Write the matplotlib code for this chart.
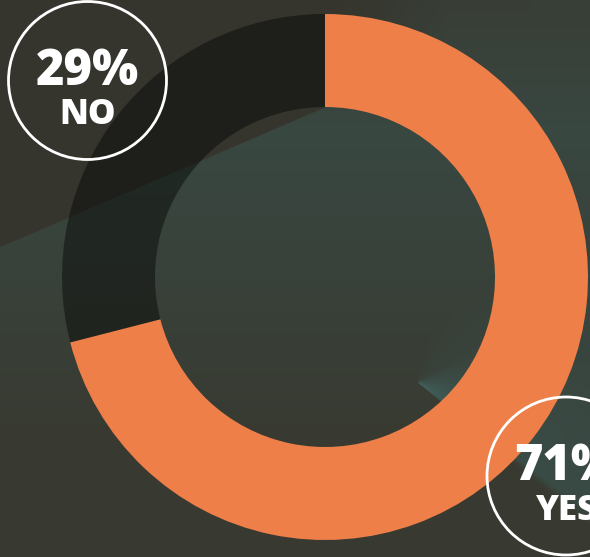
import numpy as np
import matplotlib
matplotlib.use("Agg")
import matplotlib.pyplot as plt
from matplotlib.patches import Circle

# Poll result
labels = ["YES", "NO"]
shares = [71, 29]
slice_colors = ["#EE7F48", (0, 0, 0, 0.42)]

W, H = 590, 557
fig = plt.figure(figsize=(W / 100, H / 100), dpi=100)
ax = fig.add_axes([0, 0, 1, 1])

# ---- background: dark olive with teal light falling from the right ----
yy, xx = np.mgrid[0:H, 0:W] + 0.5
olive = np.array([0x38, 0x39, 0x30]) / 255
teal = np.array([0x39, 0x4B, 0x45]) / 255
bright = np.array([0x42, 0x63, 0x5E]) / 255
shade = np.array([0x35, 0x35, 0x2D]) / 255

cx, cy = 417, 382
phi = np.degrees(np.arctan2(-(yy - cy), xx - cx))
edge = np.clip((phi + 40) / 3, 0, 1)
w_con = np.clip((140 - phi) / 200, 0, 1) * edge
w_v = (0.8 * np.clip((470 - yy) / 330, 0, 1)
       * (0.35 + 0.65 * np.clip(yy / 130, 0, 1)))
w = np.maximum(w_con, w_v)[..., None]
bg = olive * (1 - w) + teal * w

r = np.hypot(xx - cx, yy - cy)
hl = (np.exp(-r / 70) * np.clip(1 - (phi + 40) / 70, 0, 1) * edge)[..., None]
bg = bg * (1 - hl) + bright * hl

# darker sheet in the top-left corner
edge_y = 248 - 0.43 * xx
above = np.clip((edge_y - yy) / 1.5, 0, 1)
fade = np.clip(1 - (xx - 330) / 120, 0, 1)
dk = (above * fade)[..., None]
bg = bg * (1 - dk) + shade * dk

ax.imshow(np.clip(bg, 0, 1), extent=(0, W, 0, H), origin="upper", zorder=0)

# ---- donut ----
center = (325, H - 277)
outer_r, inner_r = 263, 170
ax.pie(shares, colors=slice_colors, startangle=90, counterclock=False,
       center=center, radius=outer_r,
       wedgeprops=dict(width=outer_r - inner_r, linewidth=0))

# ---- value badges ----
font = dict(family="Open Sans", weight="extra bold", color="white",
            ha="center", va="baseline")
badges = [("NO", 29, (87.5, H - 80.5)), ("YES", 71, (566, H - 476))]
for name, pct, (bx, by) in badges:
    ax.add_patch(Circle((bx, by), 79, fill=False, edgecolor="white",
                        linewidth=2, zorder=5))
    ax.text(bx, by - 4.5, f"{pct}%", fontsize=35, zorder=6, **font)
    ax.text(bx, by - 44, name, fontsize=25, zorder=6, **font)

ax.set_xlim(0, W)
ax.set_ylim(0, H)
ax.set_aspect("equal")
ax.axis("off")
fig.savefig("out.png", dpi=100)
